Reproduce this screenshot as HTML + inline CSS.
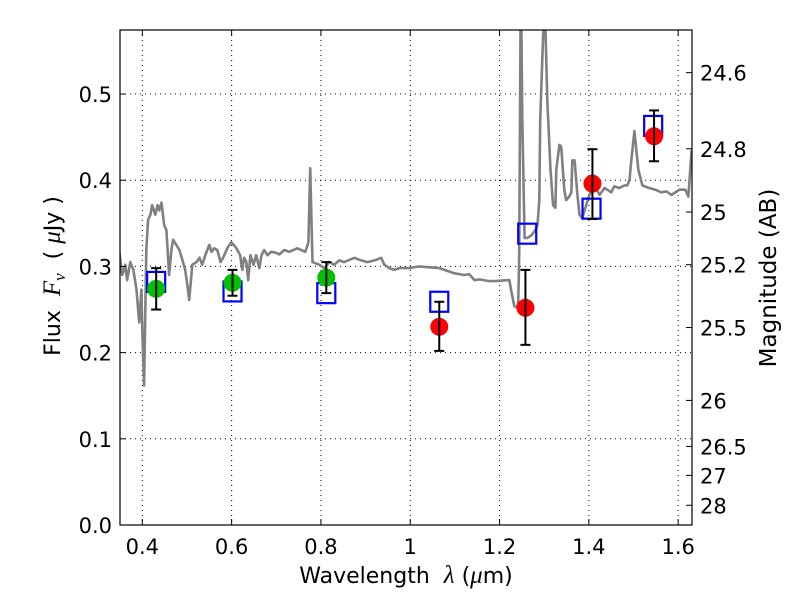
<!DOCTYPE html>
<html><head><meta charset="utf-8"><style>
body{margin:0;background:#fff}
svg{font-family:"DejaVu Sans","Liberation Sans",sans-serif}
</style></head><body>
<svg id="chart" width="800" height="600" viewBox="0 0 800 600" xmlns="http://www.w3.org/2000/svg">
<rect width="800" height="600" fill="#fff"/>
<defs><clipPath id="clip"><rect x="120" y="30" width="572" height="495"/></clipPath></defs>
<g id="grid"></g>
<g id="spec" clip-path="url(#clip)"></g>
<g id="marks"></g>
<rect x="120" y="30" width="572" height="495" fill="none" stroke="#000" stroke-width="1.2"/>
<g id="axes"></g>
<text x="406" y="583" font-size="22" text-anchor="middle">Wavelength&#160;&#160;<tspan font-style="italic" font-family="Liberation Serif,serif" font-size="25">λ</tspan> (<tspan font-style="italic" font-family="Liberation Serif,serif" font-size="25">μ</tspan>m)</text>
<text transform="translate(60,276) rotate(-90)" font-size="22" text-anchor="middle">Flux&#160;&#160;<tspan font-style="italic" font-family="Liberation Serif,serif" font-size="25">F<tspan font-size="17" dy="5">ν</tspan></tspan><tspan dy="-5">&#160;&#160;( </tspan><tspan font-style="italic" font-family="Liberation Serif,serif" font-size="25">μ</tspan>Jy )</text>
<text transform="translate(776,278) rotate(-90)" font-size="23" text-anchor="middle">Magnitude (AB)</text>
</svg>
<script>
const specLam=[0.348,0.355,0.362,0.366,0.373,0.380,0.387,0.393,0.398,0.400,0.404,0.409,0.413,0.418,0.422,0.429,0.434,0.438,0.443,0.449,0.454,0.460,0.465,0.469,0.476,0.483,0.490,0.496,0.501,0.505,0.512,0.521,0.528,0.534,0.541,0.550,0.555,0.561,0.568,0.575,0.581,0.590,0.599,0.608,0.613,0.619,0.624,0.628,0.633,0.637,0.642,0.649,0.655,0.662,0.667,0.673,0.680,0.689,0.698,0.707,0.718,0.729,0.747,0.765,0.772,0.776,0.781,0.796,0.808,0.819,0.830,0.841,0.852,0.875,0.890,0.904,0.920,0.935,0.942,0.953,0.964,0.976,0.998,1.020,1.043,1.065,1.088,1.099,1.121,1.132,1.144,1.155,1.177,1.191,1.217,1.222,1.226,1.233,1.240,1.242,1.244,1.247,1.249,1.251,1.256,1.262,1.271,1.280,1.285,1.289,1.291,1.298,1.303,1.307,1.314,1.320,1.325,1.327,1.334,1.338,1.345,1.349,1.356,1.361,1.363,1.368,1.374,1.379,1.385,1.401,1.412,1.424,1.435,1.441,1.450,1.457,1.468,1.480,1.486,1.491,1.495,1.502,1.511,1.520,1.535,1.549,1.562,1.574,1.585,1.603,1.616,1.623,1.630];
const specFlux=[0.319,0.290,0.302,0.284,0.305,0.296,0.273,0.235,0.273,0.226,0.162,0.319,0.354,0.360,0.371,0.360,0.371,0.365,0.374,0.348,0.342,0.290,0.319,0.331,0.325,0.319,0.307,0.296,0.278,0.261,0.302,0.305,0.310,0.302,0.313,0.325,0.317,0.321,0.319,0.305,0.310,0.321,0.328,0.323,0.319,0.313,0.296,0.310,0.305,0.284,0.313,0.302,0.313,0.298,0.313,0.319,0.313,0.317,0.316,0.314,0.319,0.317,0.321,0.317,0.328,0.414,0.305,0.302,0.298,0.305,0.302,0.307,0.305,0.310,0.307,0.305,0.307,0.310,0.302,0.298,0.296,0.298,0.298,0.300,0.299,0.298,0.294,0.292,0.290,0.291,0.284,0.285,0.283,0.283,0.284,0.284,0.272,0.254,0.252,0.261,0.313,0.574,0.574,0.470,0.333,0.333,0.336,0.342,0.348,0.377,0.470,0.574,0.574,0.493,0.412,0.371,0.368,0.412,0.441,0.439,0.389,0.377,0.381,0.386,0.423,0.423,0.386,0.360,0.356,0.383,0.394,0.383,0.391,0.389,0.386,0.393,0.391,0.394,0.394,0.400,0.423,0.457,0.412,0.394,0.391,0.389,0.386,0.387,0.383,0.389,0.389,0.381,0.435,0.481];
const greenLam=[0.431,0.602,0.812];
const greenFlux=[0.274,0.281,0.287];
const greenErr=[0.024,0.015,0.018];
const redLam=[1.065,1.258,1.408,1.546];
const redFlux=[0.230,0.252,0.396,0.451];
const redErrLo=[0.028,0.043,0.041,0.029];
const redErrHi=[0.029,0.044,0.040,0.030];
const boxLam=[0.431,0.602,0.812,1.065,1.262,1.406,1.544];
const boxFlux=[0.282,0.271,0.269,0.259,0.338,0.367,0.463];
const xTicks=[0.4,0.6,0.8,1.0,1.2,1.4,1.6];
const xTickLabels=["0.4","0.6","0.8","1","1.2","1.4","1.6"];
const yTicks=[0,0.1,0.2,0.3,0.4,0.5];
const yTickLabels=["0.0","0.1","0.2","0.3","0.4","0.5"];
const magTicks=[24.6,24.8,25,25.2,25.5,26,26.5,27,28];
const magTickLabels=["24.6","24.8","25","25.2","25.5","26","26.5","27","28"];

const X0=120,X1=692,Y0=525,Y1=30,XMIN=0.35,XMAX=1.631,YMIN=0,YMAX=0.5743;
const sx=v=>X0+(v-XMIN)/(XMAX-XMIN)*(X1-X0);
const sy=v=>Y0-(v-YMIN)/(YMAX-YMIN)*(Y0-Y1);
const magToFlux=m=>Math.pow(10,(23.9-m)/2.5);
const NS="http://www.w3.org/2000/svg";
function mk(tag,parent,attrs){const e=document.createElementNS(NS,tag);for(const k in attrs)e.setAttribute(k,attrs[k]);parent.appendChild(e);return e;}
const grid=document.getElementById('grid'),axes=document.getElementById('axes'),spec=document.getElementById('spec'),marks=document.getElementById('marks');

xTicks.forEach((t,i)=>{const x=sx(t);
 const g=mk('line',grid,{x1:x,x2:x,y1:Y1,y2:Y0,stroke:'#000','stroke-width':1,'stroke-dasharray':'1,4'});
 
 
 mk('line',axes,{x1:x,x2:x,y1:Y0,y2:Y0-6,stroke:'#000'});
 mk('line',axes,{x1:x,x2:x,y1:Y1,y2:Y1+6,stroke:'#000'});
 const tx=mk('text',axes,{x:x,y:Y0+29,'font-size':21,'text-anchor':'middle'});tx.textContent=xTickLabels[i];
 
 
});
yTicks.forEach((t,i)=>{const y=sy(t);
 const g=mk('line',grid,{x1:X0,x2:X1,y1:y,y2:y,stroke:'#000','stroke-width':1,'stroke-dasharray':'1,4'});
 
 
 mk('line',axes,{x1:X0,x2:X0+6,y1:y,y2:y,stroke:'#000'});
 const tx=mk('text',axes,{x:X0-8,y:y+8,'font-size':21,'text-anchor':'end'});tx.textContent=yTickLabels[i];
 
 
});
magTicks.forEach((m,i)=>{const y=sy(magToFlux(m));
 mk('line',axes,{x1:X1,x2:X1-6,y1:y,y2:y,stroke:'#000'});
 const tx=mk('text',axes,{x:X1+8,y:y+8,'font-size':21,'text-anchor':'start'});tx.textContent=magTickLabels[i];
 
 
});
let d='';specLam.forEach((l,i)=>{d+=(i?'L':'M')+sx(l).toFixed(1)+','+sy(specFlux[i]).toFixed(1);});
const p=mk('path',spec,{d:d,fill:'none',stroke:'#808080','stroke-width':2.6,'stroke-linejoin':'round'});



boxLam.forEach((l,i)=>{const r=mk('rect',marks,{x:sx(l)-9,y:sy(boxFlux[i])-10,width:18,height:20,fill:'none',stroke:'#0000ff','stroke-width':2.2});
 
 
});
function errbar(x,lo,hi){const a=mk('line',marks,{x1:x,x2:x,y1:sy(lo),y2:sy(hi),stroke:'#000','stroke-width':2});
 
 
 mk('line',marks,{x1:x-5,x2:x+5,y1:sy(lo),y2:sy(lo),stroke:'#000','stroke-width':2});
 mk('line',marks,{x1:x-5,x2:x+5,y1:sy(hi),y2:sy(hi),stroke:'#000','stroke-width':2});}
greenLam.forEach((l,i)=>{const x=sx(l);
 const c=mk('circle',marks,{cx:x,cy:sy(greenFlux[i]),r:9,fill:'#00c000'});
 
 
 errbar(x,greenFlux[i]-greenErr[i],greenFlux[i]+greenErr[i]);
});
redLam.forEach((l,i)=>{const x=sx(l);
 const c=mk('circle',marks,{cx:x,cy:sy(redFlux[i]),r:9,fill:'#ff0000'});
 
 
 errbar(x,redFlux[i]-redErrLo[i],redFlux[i]+redErrHi[i]);
});
</script>
</body></html>
